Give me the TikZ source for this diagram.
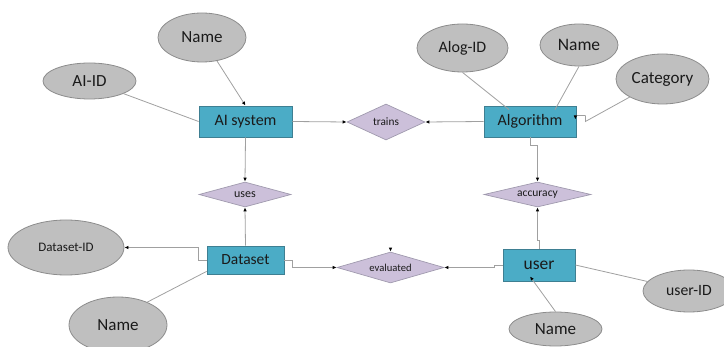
\documentclass[tikz,border=0pt]{standalone}
\usepackage{fontspec}
\setmainfont{Carlito}
\usetikzlibrary{shapes.geometric,arrows.meta,calc}
\definecolor{attrfill}{HTML}{BFBFBF}
\definecolor{attrdraw}{HTML}{8C8C8C}
\definecolor{entfill}{HTML}{4BACC6}
\definecolor{entdraw}{HTML}{3E7F92}
\definecolor{relfill}{HTML}{CCC0DA}
\definecolor{reldraw}{HTML}{A09AAE}
\definecolor{linec}{HTML}{A0A0A0}
\definecolor{txt}{HTML}{1A1A1A}
\begin{document}
\begin{tikzpicture}[x=1pt,y=-1pt,
 fsz/.style={font=\fontsize{#1pt}{#1pt}\selectfont},
 attr/.style={ellipse, draw=attrdraw, fill=attrfill, line width=0.8pt, inner sep=0pt, text=txt},
 ent/.style={rectangle, draw=entdraw, fill=entfill, line width=0.8pt, inner sep=0pt, text=txt},
 rel/.style={diamond, draw=reldraw, fill=relfill, line width=0.7pt, inner sep=0pt, text=txt},
 conn/.style={draw=linec, line width=0.8pt},
 arr/.style={conn, -{Latex[length=4pt,width=3.5pt,color=black]}},
]
\useasboundingbox (0,0) rectangle (724,347);
% attributes
\node[attr, fsz=17, minimum width=88pt, minimum height=49pt] (name1) at (202,37.5) {Name};
\node[attr, fsz=17, minimum width=93pt, minimum height=36pt] (aiid) at (89.5,81) {AI-ID};
\node[attr, fsz=16, minimum width=91pt, minimum height=48pt] (alogid) at (462.5,48) {Alog-ID};
\node[attr, fsz=17.5, minimum width=78pt, minimum height=42pt] (name2) at (579,45) {Name};
\node[attr, fsz=17, minimum width=93pt, minimum height=50pt] (category) at (662.5,79) {Category};
\node[attr, fsz=13, minimum width=116pt, minimum height=55pt] (datasetid) at (66,247.5) {Dataset-ID};
\node[attr, fsz=17, minimum width=98pt, minimum height=56pt] (name3) at (118,325) {Name};
\node[attr, fsz=15.7, minimum width=92pt, minimum height=42pt] (userid) at (689,291) {user-ID};
\node[attr, fsz=17, minimum width=93pt, minimum height=34pt] (name4) at (555.5,329) {Name};
% entities
\node[ent, fsz=16, minimum width=93pt, minimum height=31pt] (ais) at (245.5,121.5) {AI system};
\node[ent, fsz=16, minimum width=92pt, minimum height=31pt] (algo) at (530,121.5) {Algorithm};
\node[ent, fsz=15.5, minimum width=77pt, minimum height=28pt] (dataset) at (245.5,260) {Dataset};
\node[ent, fsz=17.5, minimum width=72pt, minimum height=32pt] (user) at (539,265) {user};
% relationships
\node[rel, fsz=11.3, aspect=2.17, minimum width=78pt, minimum height=36pt] (trains) at (386,122) {trains};
\node[rel, fsz=12, aspect=3.68, minimum width=92pt, minimum height=25pt] (uses) at (245,194.5) {uses};
\node[rel, fsz=11.5, aspect=4.28, minimum width=107pt, minimum height=25pt] (accuracy) at (537.5,194.5) {accuracy};
\node[rel, fsz=10.6, aspect=3.45, minimum width=107pt, minimum height=31pt] (evaluated) at (390.5,267.5) {evaluated};
% connectors
\draw[arr] (name1) -- (ais.north);
\draw[conn] (aiid) -- (ais.west);
\draw[arr] (ais.east) -- (trains.west);
\draw[arr] (ais.south) -- (uses.north);
\draw[arr] (dataset.north) -- (uses.south);
\draw[arr] (algo.west) -- (trains.east);
\draw[conn] (alogid.south) -- ([xshift=-21pt,yshift=-4pt]algo.north);
\draw[conn] (name2.south) -- ([xshift=25pt,yshift=-4pt]algo.north);
\draw[conn] (category) -- ([xshift=9pt]algo.east) -- ([xshift=9pt,yshift=6pt]algo.east);
\draw[arr] ([xshift=9pt,yshift=6pt]algo.east) -| ([xshift=-1pt,yshift=2pt]algo.east);
\draw[arr] (algo.south) -- ++(0,8) -| (accuracy.north);
\draw[arr] (user.north) -- ++(0,-8) -| (accuracy.south);
\draw[arr] (user.west) -- ++(-8,0) |- (evaluated.east);
\draw[arr] (dataset.east) -- ++(8,0) |- (evaluated.west);
\draw[arr] (dataset.west) -- ++(-8,0) |- (datasetid.east);
\draw[conn] (name3.38) -- ([yshift=3pt]dataset.south west);
\draw[conn] (userid) -- (user.east);
\draw[arr] (name4.north) -- ([xshift=-9pt,yshift=5pt]user.south);
\draw[arr] ([yshift=4pt]evaluated.north) -- (evaluated.north);
\end{tikzpicture}
\end{document}
